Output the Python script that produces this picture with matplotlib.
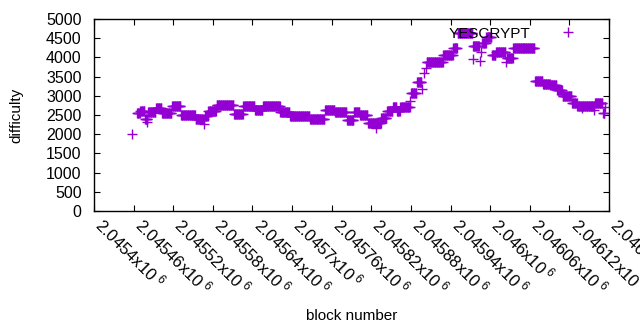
import numpy as np
import matplotlib
matplotlib.use("Agg")
import matplotlib.pyplot as plt
from matplotlib.ticker import MultipleLocator, FuncFormatter

plt.rcParams['font.family'] = ['Liberation Sans', 'DejaVu Sans']
plt.rcParams['mathtext.fontset'] = 'custom'
plt.rcParams['mathtext.rm'] = 'Liberation Sans'
plt.rcParams['mathtext.it'] = 'Liberation Sans'

# difficulty held constant over runs of blocks (start, end, value)
run_start = [2045465, 2045470, 2045477, 2045482, 2045494, 2045503, 2045518, 2045532,
             2045554, 2045568, 2045573, 2045586, 2045612, 2045626, 2045644, 2045656,
             2045682, 2045697, 2045714, 2045727, 2045750, 2045765, 2045783, 2045794,
             2045803, 2045815, 2045835, 2045844, 2045853, 2045859, 2045864, 2045880,
             2045889, 2045904, 2045929, 2045944, 2045951, 2045974, 2045988, 2045994,
             2046003, 2046009, 2046025, 2046035, 2046068, 2046080, 2046091, 2046101,
             2046110, 2046124, 2046132, 2046159, 2046171]
run_end = [2045469, 2045476, 2045481, 2045493, 2045502, 2045517, 2045531, 2045553,
           2045566, 2045572, 2045585, 2045611, 2045625, 2045643, 2045655, 2045681,
           2045696, 2045713, 2045726, 2045749, 2045764, 2045782, 2045793, 2045802,
           2045814, 2045834, 2045843, 2045852, 2045858, 2045863, 2045878, 2045888,
           2045896, 2045928, 2045943, 2045950, 2045973, 2045983, 2045993, 2046002,
           2046008, 2046023, 2046034, 2046067, 2046079, 2046090, 2046100, 2046109,
           2046123, 2046131, 2046158, 2046170, 2046173]
run_value = [2560, 2600, 2400, 2590, 2670, 2560, 2730, 2490,
             2390, 2470, 2610, 2750, 2530, 2740, 2620, 2730,
             2590, 2480, 2470, 2400, 2620, 2570, 2370, 2590,
             2490, 2300, 2410, 2600, 2710, 2600, 2720, 3060,
             3370, 3890, 4070, 4240, 4630, 4290, 4370, 4520,
             4060, 4150, 3980, 4240, 3390, 3310, 3270, 3160,
             3000, 2820, 2740, 2820, 2550]

# single scattered blocks
single_block = [2045457, 2045480, 2045567, 2045827, 2045879, 2045897, 2045900,
                2045903, 2045974, 2045985, 2045986, 2046024, 2046139, 2046157, 2046174]
single_value = [2000, 2330, 2260, 2150, 2870, 3190, 3590,
                3720, 3950, 3900, 4150, 3890, 2680, 2630, 2700]

blocks = np.concatenate([np.arange(s, e + 1) for s, e in zip(run_start, run_end)] + [single_block])
diffs = np.concatenate([np.full(e - s + 1, v) for s, e, v in zip(run_start, run_end, run_value)] + [single_value])

fig = plt.figure(figsize=(6.4, 3.3), dpi=100)
ax = fig.add_axes([94 / 640, 1 - 211 / 330, 515 / 640, 192 / 330])

ax.plot(blocks, diffs, linestyle='none', marker='+', markersize=6.5, markeredgewidth=1.0,
        color='#9400d3', label='YESCRYPT')

ax.set_xlim(2045400, 2046180)
ax.set_ylim(0, 5000)
ax.xaxis.set_major_locator(MultipleLocator(60))
ax.yaxis.set_major_locator(MultipleLocator(500))
ax.xaxis.set_major_formatter(FuncFormatter(lambda v, p: f"{v / 1e6:.6g}x10$^{{\\ 6}}$"))

ax.tick_params(direction='in', top=True, right=True, length=4, width=0.8)
ax.tick_params(axis='y', pad=9, labelsize=11.5)
ax.tick_params(axis='x', pad=11, labelsize=12)
for lab in ax.get_xticklabels():
    lab.set_rotation(-45)
    lab.set_ha('left')
    lab.set_va('baseline')
    lab.set_rotation_mode('anchor')

for s in ax.spines.values():
    s.set_linewidth(1.0)

ax.set_xlabel("block number", fontsize=11)
ax.set_ylabel("difficulty", fontsize=11)
ax.xaxis.set_label_coords(0.5, -0.51)
ax.yaxis.set_label_coords(-0.138, 0.5)

ax.legend(loc='upper right', frameon=False, markerfirst=False, fontsize=11,
          handlelength=2.5, handletextpad=1.2, borderaxespad=0.1,
          bbox_to_anchor=(0.972, 1.0))

fig.savefig("out.png", dpi=100)
